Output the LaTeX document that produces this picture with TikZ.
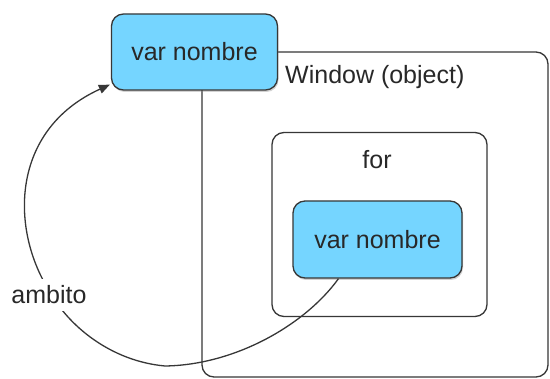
\documentclass[tikz,border=0pt]{standalone}
\usepackage{fontspec}
\setmainfont{Liberation Sans}
\usetikzlibrary{shadows,calc,arrows.meta}
\definecolor{varblue}{RGB}{117,213,255}
\definecolor{edge}{RGB}{55,55,55}
\definecolor{txt}{RGB}{40,40,40}
\begin{document}
\begin{tikzpicture}[x=1pt,y=-1pt,
  lbl/.style={font=\fontsize{25}{30}\selectfont, text=txt, inner sep=0pt},
  varbox/.style={draw=edge, line width=1.3pt, fill=varblue, rounded corners=12pt,
    drop shadow={opacity=0.35, shadow xshift=1pt, shadow yshift=-2pt},
    font=\fontsize{25}{30}\selectfont, text=txt, inner sep=0pt},
  scopebox/.style={draw=edge, line width=1.3pt, rounded corners=12pt, inner sep=0pt}]
\useasboundingbox (0,0) rectangle (550,379);
\fill[white] (0,0) rectangle (550,379);
% Window (object) scope
\node[scopebox, minimum width=346pt, minimum height=325pt] (window) at (375,214.5) {};
\node[lbl, anchor=west] (wlabel) at (285,77) {Window (object)};
% for scope
\node[scopebox, minimum width=215pt, minimum height=184pt] (forbox) at (379.5,224.5) {};
\node[lbl] (forlabel) at (377,160) {for};
% variables
\node[varbox, minimum width=166pt, minimum height=76pt] (top) at (194.5,52) {var nombre};
\node[varbox, minimum width=169pt, minimum height=77pt] (inner) at (377.5,239.5) {var nombre};
% scope arrow
\coordinate (start) at ($(inner.south)+(-39,0)$);
\coordinate (tip) at ($(top.south west)+(-1,-6)$);
\draw[edge, line width=1.3pt, -{Triangle[length=11pt,width=9pt]}]
  (start) .. controls (305,325) and (235,365) .. (165,366)
          .. controls (110,361) and (68,325) .. (50,292)
          .. controls (10,230) and (10,130) .. (tip);
\node[lbl, fill=white, inner sep=7pt] (ambito) at (49,295) {ambito};
\end{tikzpicture}
\end{document}
